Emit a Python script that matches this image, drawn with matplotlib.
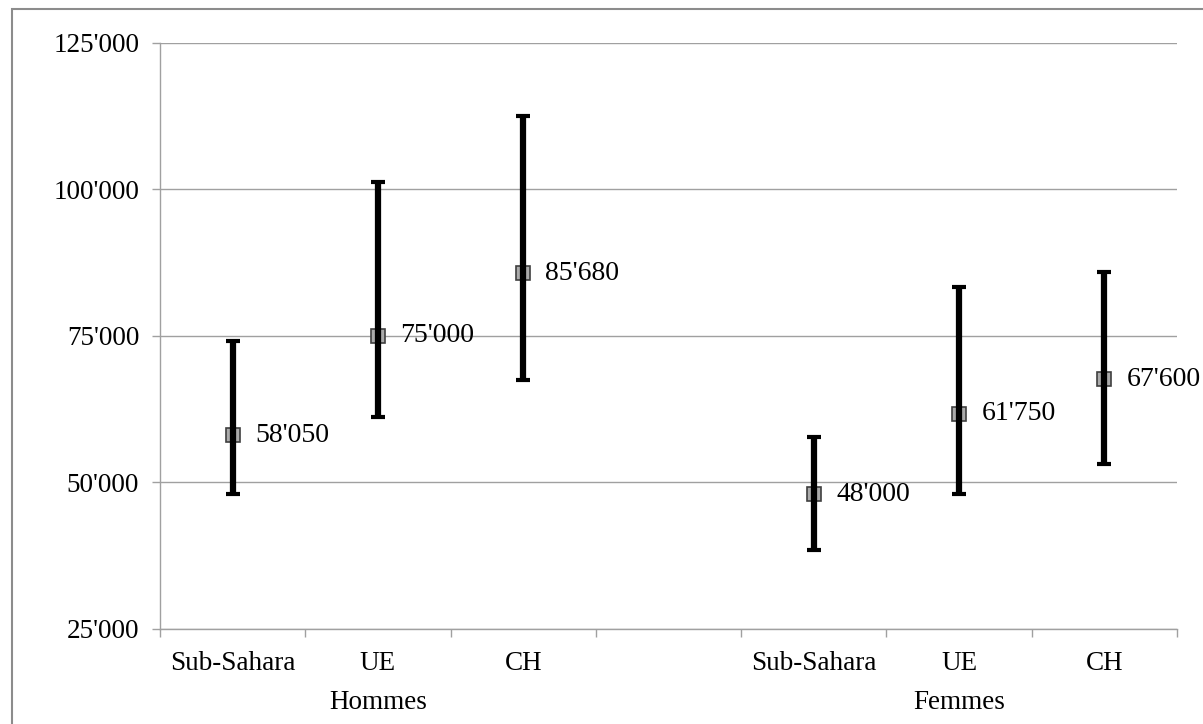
"""
Salaires médians par origine et sexe, avec intervalles (barres d'erreur).
"""
import numpy as np
import matplotlib
matplotlib.use("Agg")
import matplotlib.pyplot as plt
from matplotlib.patches import Rectangle

# categories (position 3 is the empty gap between the two groups)
categories = ["Sub-Sahara", "UE\nHommes", "CH", "", "Sub-Sahara", "UE\nFemmes", "CH"]
positions = [0, 1, 2, 4, 5, 6]
medians = [58050, 75000, 85680, 48000, 61750, 67600]
upper = [74100, 101300, 112500, 57800, 83400, 86000]
lower = [48000, 61200, 67500, 38400, 48000, 53200]
yticks = [25000, 50000, 75000, 100000, 125000]


def fmt(v):
    return f"{v:,}".replace(",", "'")


def main():
    plt.rcParams.update({
        "font.family": ["Liberation Serif", "DejaVu Serif"],
        "font.size": 19.5,
    })

    fig = plt.figure(figsize=(12.03, 7.24), dpi=100)
    ax = fig.add_axes([160 / 1203, 1 - 629 / 724, (1177 - 160) / 1203, (629 - 43) / 724])

    x = np.array(positions)
    med = np.array(medians)
    err = np.vstack([med - np.array(lower), np.array(upper) - med])

    ax.plot(x, med, "s", markersize=10, markerfacecolor="#ababab",
            markeredgecolor="#404040", markeredgewidth=1.2, zorder=3, linestyle="none")
    ax.errorbar(x, med, yerr=err, fmt="none", ecolor="black", elinewidth=4.5,
                capsize=5, capthick=3, zorder=4)

    for xi, v in zip(x, med):
        ax.annotate(fmt(v), xy=(xi, v), xytext=(16, 0), textcoords="offset points",
                    ha="left", va="center", fontsize=20, color="black", zorder=5)

    ax.set_xlim(-0.5, 6.5)
    ax.set_ylim(25000, 125000)
    ax.set_yticks(yticks)
    ax.set_yticklabels([fmt(v) for v in yticks])
    ax.yaxis.grid(True, color="#a0a0a0", linewidth=1)
    ax.set_axisbelow(True)

    ax.set_xticks(range(len(categories)))
    ax.set_xticklabels(categories)
    ax.set_xticks(np.arange(-0.5, 7, 1.0), minor=True)
    ax.tick_params(axis="x", which="major", length=0, pad=16)
    ax.tick_params(axis="x", which="minor", length=6, color="#a0a0a0", width=1)
    ax.tick_params(axis="y", length=6, color="#a0a0a0", width=1, pad=9)
    for lab in ax.get_xticklabels():
        lab.set_linespacing(1.75)
        lab.set_verticalalignment("top")

    for side in ("top", "right"):
        ax.spines[side].set_visible(False)
    for side in ("left", "bottom"):
        ax.spines[side].set_color("#a0a0a0")
        ax.spines[side].set_linewidth(1)

    # outer chart frame
    fig.patches.append(Rectangle((12 / 1203, -0.1), 1.2, 1.1 - 9 / 724,
                                 transform=fig.transFigure, fill=False,
                                 edgecolor="#8c8c8c", linewidth=1.5))

    fig.savefig("out.png", dpi=100)
    plt.close(fig)


if __name__ == "__main__":
    main()
